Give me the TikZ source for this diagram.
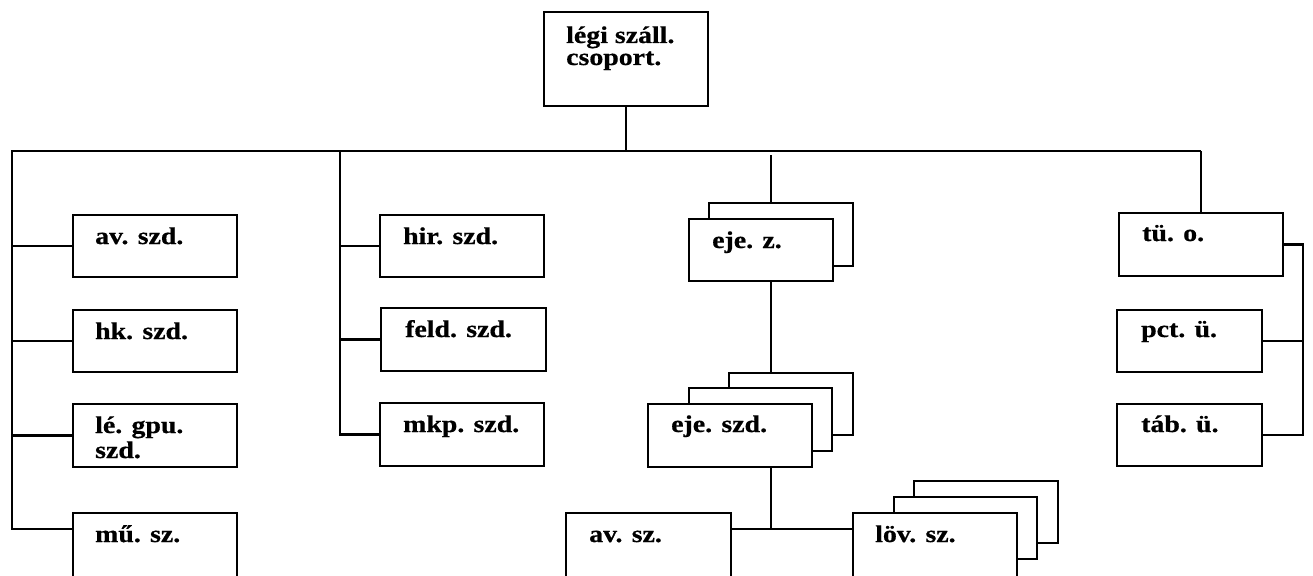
\documentclass[tikz,border=0pt]{standalone}
\usepackage{fontspec}
\setmainfont{Liberation Serif}[BoldFeatures={FakeBold=0.6}]
% bold labels, set a little wide
\newcommand\widelabel[1]{\scalebox{1.16}[1]{#1}}
\newcommand\twolines[2]{\scalebox{1.16}[1]{\begin{tabular}[t]{@{}l@{}}#1\\#2\end{tabular}}}
\begin{document}
\begin{tikzpicture}[x=1pt,y=-1pt,
  unit/.style={draw,line width=2.2pt,fill=white,inner sep=0pt,outer sep=0pt,anchor=north west},
  lab/.style={anchor=base west,inner sep=0pt,font=\fontsize{24}{22}\selectfont\bfseries},
  link/.style={line width=2.2pt}]
\useasboundingbox (0,0) rectangle (1313,575);

% headquarters
\node[unit,minimum width=164,minimum height=94] (hq) at (544,12) {};
\node[lab] (hq-t) at (566,43) {\twolines{légi száll.}{csoport.}};

% left column
\node[unit,minimum width=164,minimum height=62] (av) at (73,215) {};
\node[unit,minimum width=164,minimum height=62] (hk) at (73,310) {};
\node[unit,minimum width=164,minimum height=63] (le) at (73,404) {};
\node[unit,minimum width=164,minimum height=64] (mu) at (73,513) {};
\node[lab] (av-t) at (95,244) {\widelabel{av. szd.}};
\node[lab] (hk-t) at (95,339) {\widelabel{hk. szd.}};
\node[lab,font=\fontsize{24}{25}\selectfont\bfseries] (le-t) at (95,433) {\twolines{lé. gpu.}{szd.}};
\node[lab] (mu-t) at (95,542) {\widelabel{mű. sz.}};

% second column
\node[unit,minimum width=164,minimum height=62] (hir) at (380,215) {};
\node[unit,minimum width=165,minimum height=63] (feld) at (381,308) {};
\node[unit,minimum width=164,minimum height=63] (mkp) at (380,403) {};
\node[lab] (hir-t) at (403,244) {\widelabel{hir. szd.}};
\node[lab] (feld-t) at (405,337) {\widelabel{feld. szd.}};
\node[lab] (mkp-t) at (403,432) {\widelabel{mkp. szd.}};

% middle branch: stacked units
\node[unit,minimum width=144,minimum height=63] (ejez-b) at (709,203) {};
\node[unit,minimum width=144,minimum height=62] (ejez) at (689,219) {};
\node[lab] (ejez-t) at (712,248) {\widelabel{eje. z.}};

\node[unit,minimum width=124,minimum height=62] (ejeszd-b2) at (729,373) {};
\node[unit,minimum width=143,minimum height=63] (ejeszd-b1) at (689,388) {};
\node[unit,minimum width=164,minimum height=63] (ejeszd) at (648,404) {};
\node[lab] (ejeszd-t) at (671,432) {\widelabel{eje. szd.}};

\node[unit,minimum width=165,minimum height=64] (avsz) at (566,513) {};
\node[lab] (avsz-t) at (589,542) {\widelabel{av. sz.}};

\node[unit,minimum width=144,minimum height=62] (lov-b2) at (914,481) {};
\node[unit,minimum width=143,minimum height=62] (lov-b1) at (894,497) {};
\node[unit,minimum width=164,minimum height=64] (lov) at (853,513) {};
\node[lab] (lov-t) at (875,542) {\widelabel{löv. sz.}};

% right column
\node[unit,minimum width=164,minimum height=63] (tu) at (1119,213) {};
\node[unit,minimum width=145,minimum height=62] (pct) at (1117,310) {};
\node[unit,minimum width=145,minimum height=62] (tab) at (1117,404) {};
\node[lab] (tu-t) at (1142,241) {\widelabel{tü. o.}};
\node[lab] (pct-t) at (1141,337) {\widelabel{pct. ü.}};
\node[lab] (tab-t) at (1141,432) {\widelabel{táb. ü.}};

% connector anchors
\coordinate (busL) at (12,151);
\coordinate (busR) at (1201,151);
\coordinate (c2) at (340,151);
\coordinate (mid) at (771,155);
\coordinate (join) at (771,529);
\coordinate (rx) at (1303,0);

% main bus
\draw[link] (hq.south) -- (hq.south |- busL);
\draw[link] (busR) -- (busL) -- (busL |- join) -- (mu.west |- join);
\draw[link] (busL |- av.west) -- (av.west);
\draw[link] (busL |- hk.west) -- (hk.west);
\draw[link] (busL |- le.west) -- (le.west);
\draw[link] (busR) -- (tu.north);

% second column
\draw[link] (c2) |- (mkp.west);
\draw[link] (c2 |- hir.west) -- (hir.west);
\draw[link] (c2 |- feld.west) -- (feld.west);

% middle branch
\draw[link] (mid) -- (mid |- ejez-b.north);
\draw[link] (mid |- ejez.south) -- (mid |- ejeszd-b2.north);
\draw[link] (mid |- ejeszd.south) -- (join);
\draw[link] (avsz.east |- join) -- (lov.west |- join);

% right column
\draw[link] (tu.east) -- (tu.east -| rx) -- (tab.east -| rx) -- (tab.east);
\draw[link] (pct.east) -- (pct.east -| rx);
\end{tikzpicture}
\end{document}
